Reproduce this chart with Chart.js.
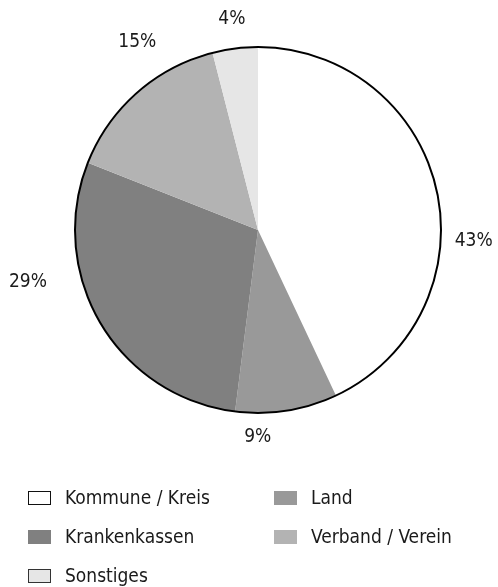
<!DOCTYPE html>
<html>
<head>
<meta charset="utf-8">
<script src="https://cdn.jsdelivr.net/npm/chart.js@4/dist/chart.umd.min.js"></script>
<style>
  html, body { margin: 0; padding: 0; background: #ffffff; }
  #wrap { width: 498px; height: 587px; position: relative; }
</style>
</head>
<body>
<div id="wrap"><canvas id="chart"></canvas></div>
<script>
// Funding sources, share in percent
const categories = ['Kommune / Kreis', 'Land', 'Krankenkassen', 'Verband / Verein', 'Sonstiges'];
const shares = [43, 9, 29, 15, 4];
const shareLabels = ['43%', '9%', '29%', '15%', '4%'];

const sliceColors = ['#ffffff', '#999999', '#808080', '#b3b3b3', '#e6e6e6'];
const legendBorders = ['#111111', null, null, null, '#333333'];

// where each percentage sits: fraction along the slice, distance from centre
const labelPlacement = [
  { f: 0.60, d: 216 },
  { f: 0.78, d: 207 },
  { f: 0.67, d: 236 },
  { f: 0.66, d: 223 },
  { f: 0.51, d: 213 }
];

const FONT = '"DejaVu Sans Condensed", "Liberation Sans Narrow", "Liberation Sans", sans-serif';

const decorations = {
  id: 'decorations',
  afterDatasetsDraw(chart) {
    const ctx = chart.ctx;
    const meta = chart.getDatasetMeta(0);
    const arcs = meta.data;
    if (!arcs.length) return;
    const cx = arcs[0].x, cy = arcs[0].y, r = arcs[0].outerRadius;

    // outer outline
    ctx.save();
    ctx.beginPath();
    ctx.arc(cx, cy, r, 0, Math.PI * 2);
    ctx.lineWidth = 2;
    ctx.strokeStyle = '#000000';
    ctx.stroke();

    // percentage labels
    ctx.fillStyle = '#1a1a1a';
    ctx.font = '19px ' + FONT;
    ctx.textAlign = 'center';
    ctx.textBaseline = 'middle';
    arcs.forEach((arc, i) => {
      const p = labelPlacement[i];
      const a = arc.startAngle + p.f * (arc.endAngle - arc.startAngle);
      ctx.fillText(shareLabels[i], cx + Math.cos(a) * p.d, cy + Math.sin(a) * p.d);
    });

    // legend in two columns
    const colX = [28, 274];
    const rowY = [498, 537, 576];
    ctx.textAlign = 'left';
    categories.forEach((name, i) => {
      const col = i % 2, row = Math.floor(i / 2);
      const bx = colX[col], by = rowY[row];
      ctx.fillStyle = sliceColors[i];
      ctx.fillRect(bx, by - 7, 23, 14);
      if (legendBorders[i]) {
        ctx.lineWidth = 1;
        ctx.strokeStyle = legendBorders[i];
        ctx.strokeRect(bx + 0.5, by - 6.5, 22, 13);
      }
      ctx.fillStyle = '#1a1a1a';
      ctx.fillText(name, bx + 37, by + 1);
    });
    ctx.restore();
  }
};

new Chart(document.getElementById('chart'), {
  type: 'pie',
  data: {
    labels: categories,
    datasets: [{
      data: shares,
      backgroundColor: sliceColors,
      borderWidth: 0,
      hoverOffset: 0
    }]
  },
  options: {
    responsive: true,
    maintainAspectRatio: false,
    animation: false,
    layout: { padding: { left: 75, right: 57, top: 47, bottom: 174 } },
    plugins: {
      legend: { display: false },
      tooltip: { enabled: false }
    }
  },
  plugins: [decorations]
});
</script>
</body>
</html>
